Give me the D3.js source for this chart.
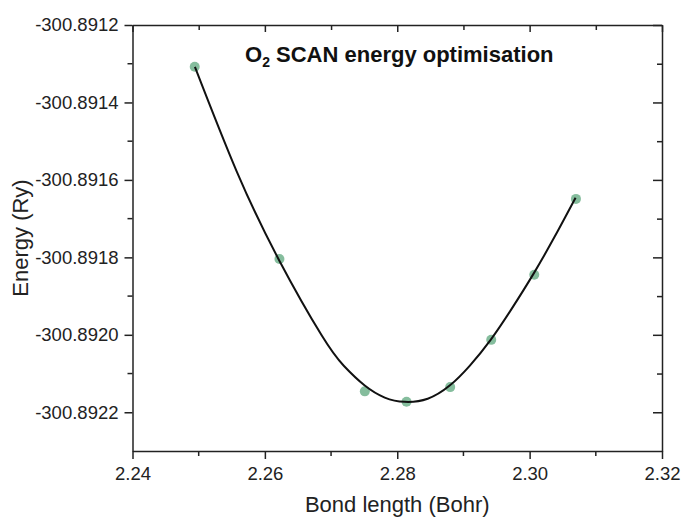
<!DOCTYPE html>
<html>
<head>
<meta charset="utf-8">
<script src="https://cdn.jsdelivr.net/npm/d3@7"></script>
<style>
  body { margin: 0; background: #fff; }
  svg { display: block; font-family: "Liberation Sans", Arial, sans-serif; }
</style>
</head>
<body>
<div id="chart"></div>
<script>
// scan points
var bondLength = [2.2494, 2.2622, 2.2751, 2.2814, 2.2880, 2.2942, 2.3007, 2.3070];
var energy = [-300.891308, -300.891804, -300.892146, -300.892173, -300.892135, -300.892013, -300.891845, -300.891649];

// the fitted curve, sampled by eye along the drawn line
var fitBond = [2.24943, 2.25577, 2.26211, 2.26860, 2.27192, 2.27509, 2.27811, 2.28113,
               2.28460, 2.28792, 2.29094, 2.29411, 2.29728, 2.30060, 2.30377, 2.30694];
var fitEnergy = [-300.891308, -300.891579, -300.891806, -300.892002, -300.892080, -300.892131, -300.892162, -300.892173,
                 -300.892165, -300.892131, -300.892080, -300.892013, -300.891933, -300.891842, -300.891747, -300.891646];

var xTicks = [2.24, 2.26, 2.28, 2.30, 2.32];
var yTicks = [-300.8912, -300.8914, -300.8916, -300.8918, -300.8920, -300.8922];

var width = 681, height = 518;
var margin = {top: 25, right: 19, bottom: 67, left: 132.5};

var svg = d3.select("#chart")
  .append("svg")
  .attr("width", width)
  .attr("height", height);

var x = d3.scaleLinear()
  .domain([2.24, 2.32])
  .range([margin.left, width - margin.right]);

var y = d3.scaleLinear()
  .domain([-300.8923, -300.8912])
  .range([height - margin.bottom, margin.top]);

var xMinor = d3.range(2.25, 2.32, 0.02);
var yMinor = d3.range(-300.8913, -300.8923, -0.0002);

// plain hyphen, not the unicode minus
var fmtY = d => d3.format(".4f")(d).replace("\u2212", "-");

// left / bottom axes, ticks outward
var xAxis = g => g
  .attr("transform", `translate(0,${height - margin.bottom})`)
  .call(d3.axisBottom(x).tickValues(xTicks).tickFormat(d3.format(".2f")).tickSize(8).tickSizeOuter(0))
  .call(g => g.append("g").selectAll("line")
    .data(xMinor).join("line")
    .attr("x1", d => x(d)).attr("x2", d => x(d))
    .attr("y1", 0).attr("y2", 5));

var yAxis = g => g
  .attr("transform", `translate(${margin.left},0)`)
  .call(d3.axisLeft(y).tickValues(yTicks).tickFormat(fmtY).tickSize(8).tickSizeOuter(0))
  .call(g => g.append("g").selectAll("line")
    .data(yMinor).join("line")
    .attr("y1", d => y(d)).attr("y2", d => y(d))
    .attr("x1", 0).attr("x2", -5));

// top / right mirror axes, ticks inward
var xTop = g => g
  .attr("transform", `translate(0,${margin.top})`)
  .call(d3.axisBottom(x).tickValues(xTicks.concat(xMinor)).tickFormat("").tickSizeOuter(0).tickSize(0))
  .call(g => g.selectAll(".tick line")
    .attr("y2", d => xTicks.includes(d) ? 7 : 5));

var yRight = g => g
  .attr("transform", `translate(${width - margin.right},0)`)
  .call(d3.axisLeft(y).tickValues(yTicks.concat(yMinor)).tickFormat("").tickSizeOuter(0).tickSize(0))
  .call(g => g.selectAll(".tick line")
    .attr("x2", d => yTicks.includes(d) ? -9 : -5));

svg.append("g").attr("class", "axis").call(xAxis);
svg.append("g").attr("class", "axis").call(yAxis);
svg.append("g").attr("class", "axis").call(xTop);
svg.append("g").attr("class", "axis").call(yRight);

svg.selectAll(".axis path, .axis line")
  .attr("stroke", "#222")
  .attr("stroke-width", 1.5);

svg.selectAll(".axis text")
  .attr("fill", "#222")
  .attr("font-size", 18.5)
  .attr("font-family", "Liberation Sans, Arial, sans-serif");

// nudge tick labels like the reference
svg.selectAll(".axis text").filter(function() { return d3.select(this).text() !== ""; })
  .each(function() {
    var t = d3.select(this);
    if (t.attr("x") !== null && +t.attr("x") < 0) t.attr("x", -14);
    if (t.attr("y") !== null && +t.attr("y") > 0) t.attr("y", 16);
  });

// points first, fitted line on top
svg.append("g")
  .selectAll("circle")
  .data(bondLength)
  .join("circle")
  .attr("cx", d => x(d))
  .attr("cy", (d, i) => y(energy[i]))
  .attr("r", 5)
  .attr("fill", "#67ad84")
  .attr("fill-opacity", 0.8);

var line = d3.line()
  .x(d => x(d[0]))
  .y(d => y(d[1]))
  .curve(d3.curveNatural);

svg.append("path")
  .datum(fitBond.map((d, i) => [d, fitEnergy[i]]))
  .attr("d", line)
  .attr("fill", "none")
  .attr("stroke", "#111")
  .attr("stroke-width", 2);

// titles
var title = svg.append("text")
  .attr("x", 245)
  .attr("y", 62)
  .attr("font-size", 22)
  .attr("font-weight", "bold")
  .attr("fill", "#111");
title.append("tspan").text("O");
title.append("tspan").attr("font-size", 14).attr("dy", 5).text("2");
title.append("tspan").attr("dy", -5).text(" SCAN energy optimisation");

svg.append("text")
  .attr("x", (margin.left + width - margin.right) / 2)
  .attr("y", 512)
  .attr("text-anchor", "middle")
  .attr("font-size", 22)
  .attr("fill", "#222")
  .text("Bond length (Bohr)");

svg.append("text")
  .attr("transform", `translate(28,${(margin.top + height - margin.bottom) / 2}) rotate(-90)`)
  .attr("text-anchor", "middle")
  .attr("font-size", 22)
  .attr("fill", "#222")
  .text("Energy (Ry)");
</script>
</body>
</html>
